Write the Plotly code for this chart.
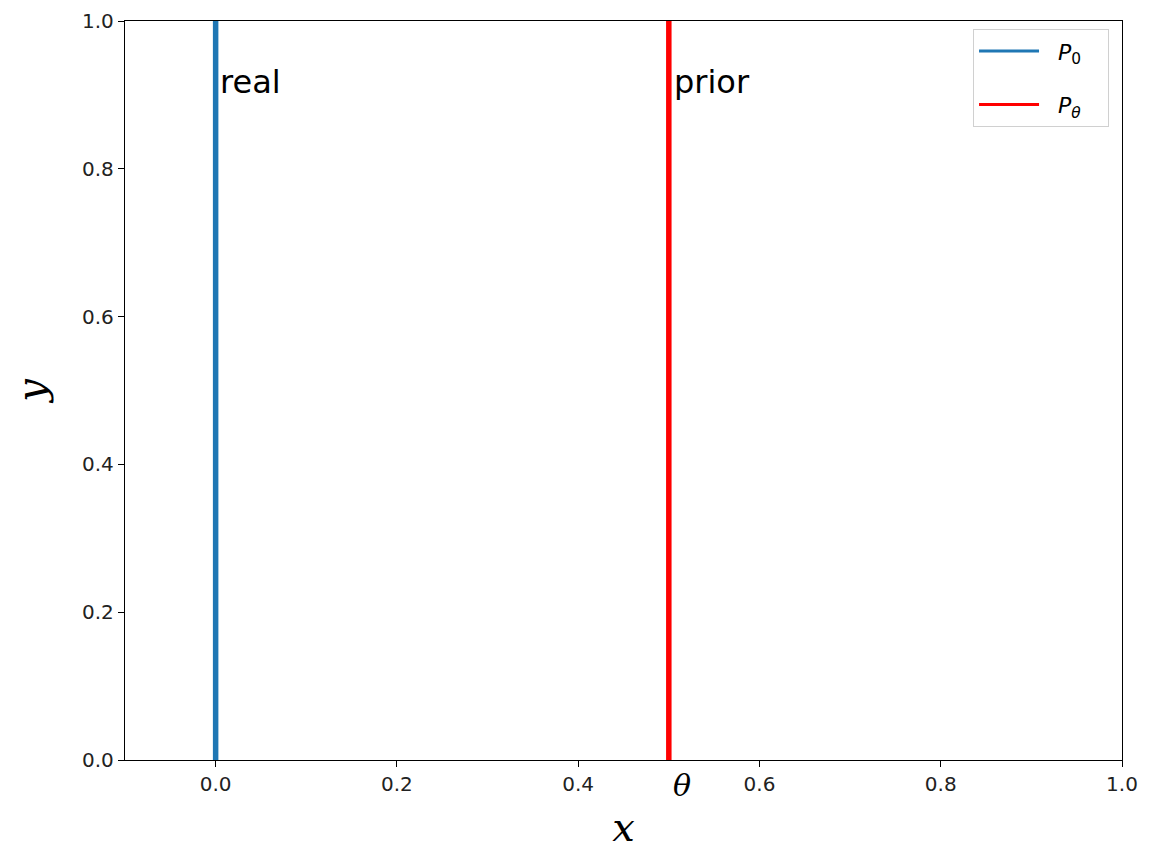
import plotly.graph_objects as go

real_x = 0.0
prior_x = 0.5
y_span = [0.0, 1.0]
series_names = ["<i>P</i><sub>0</sub>", "<i>P</i><sub><i>θ</i></sub>"]
series_colors = ["#1f77b4", "red"]
xtick_vals = [0.0, 0.2, 0.4, 0.6, 0.8, 1.0]
xtick_text = ["0.0", "0.2", "0.4", "0.6", "0.8", "1.0"]
ytick_vals = [0.0, 0.2, 0.4, 0.6, 0.8, 1.0]
ytick_text = ["0.0", "0.2", "0.4", "0.6", "0.8", "1.0"]

fig = go.Figure()
for xv, c in zip([real_x, prior_x], series_colors):
    fig.add_trace(go.Scatter(x=[xv, xv], y=y_span, mode="lines",
                             line=dict(color=c, width=5.5), showlegend=False))
# legend entries (thinner lines as in the reference legend)
for i, (n, c) in enumerate(zip(series_names, series_colors)):
    fig.add_trace(go.Scatter(x=[None], y=[None], mode="lines",
                             line=dict(color=c, width=3),
                             name="&nbsp;&nbsp;" + n + "&nbsp;&nbsp;&nbsp;",
                             legendgroup=str(i)))

fig.add_annotation(x=real_x, y=0.9, text="real", showarrow=False,
                   xanchor="left", yanchor="bottom", xshift=2, yshift=-8,
                   font=dict(size=32, color="black", family="DejaVu Sans"))
fig.add_annotation(x=prior_x, y=0.9, text="prior", showarrow=False,
                   xanchor="left", yanchor="bottom", xshift=3, yshift=-8,
                   font=dict(size=32, color="black", family="DejaVu Sans"))
fig.add_annotation(x=prior_x, y=0, yref="paper", text="<i>θ</i>", showarrow=False,
                   xanchor="center", yanchor="top", xshift=13, yshift=-6,
                   font=dict(size=30, color="black", family="DejaVu Serif"))

axis_common = dict(showline=True, linecolor="black", linewidth=1.3, mirror=True,
                   ticks="outside", ticklen=6, tickwidth=1.2, tickcolor="black",
                   showgrid=False, zeroline=False, ticklabeloverflow="allow",
                   automargin=False,
                   tickfont=dict(size=20, color="#222", family="DejaVu Sans"))

fig.update_layout(
    width=1134, height=842,
    plot_bgcolor="white", paper_bgcolor="white",
    margin=dict(l=117, r=20, t=13, b=90),
    xaxis=dict(range=[-0.1, 1.0], tickvals=xtick_vals, ticktext=xtick_text,
               title=dict(text="<i>x</i>", font=dict(size=40, family="DejaVu Serif", color="black"), standoff=28),
               **axis_common),
    yaxis=dict(range=[0.0, 1.0], tickvals=ytick_vals, ticktext=ytick_text,
               title=dict(text="<i>y</i>", font=dict(size=40, family="DejaVu Serif", color="black"), standoff=48),
               **axis_common),
    legend=dict(x=0.987, y=0.989, xanchor="right", yanchor="top",
                bordercolor="#d0d0d0", borderwidth=1, bgcolor="rgba(255,255,255,0.8)",
                font=dict(size=22, color="black", family="DejaVu Sans"),
                tracegroupgap=22, itemwidth=60),
    showlegend=True,
)

fig.write_html("out.html")
